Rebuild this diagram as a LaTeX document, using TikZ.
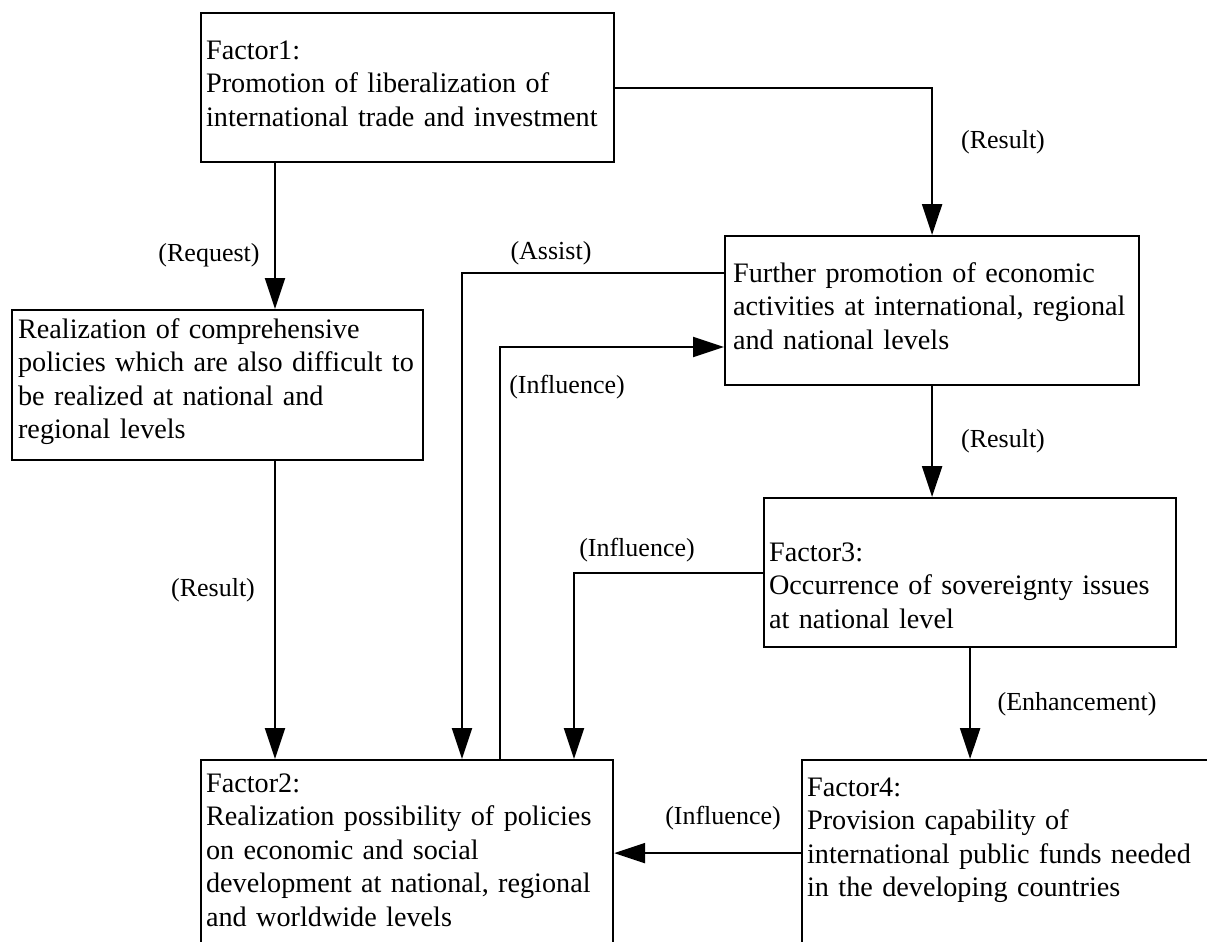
\documentclass[tikz,border=0pt]{standalone}
\usepackage{fontspec}
\setmainfont{Liberation Serif}
\usetikzlibrary{arrows.meta}
\tikzset{
  flow/.style={-{Triangle[length=31pt,width=20pt]},line width=2.2pt,draw=black},
  box/.style={draw=black,line width=2.2pt,anchor=north west,inner xsep=5pt,
    inner ysep=0pt,align=left,font=\fontsize{28.2}{33.5}\selectfont},
  tag/.style={font=\fontsize{26}{30}\selectfont,inner sep=0pt}
}

\begin{document}
\begin{tikzpicture}[x=1pt,y=-1pt]
  \path[use as bounding box,clip] (0,0) rectangle (1207,942);
  % boxes
  \node[box,text width=403pt,text height=46pt,text depth=103pt] (f1) at (200,12)
    {Factor1:\\Promotion of liberalization of\\international trade and investment};
  \node[box,inner xsep=6pt,text width=399pt,text height=28pt,text depth=122pt] (r) at (11,309)
    {Realization of comprehensive\\policies which are also difficult to\\be realized at national and\\regional levels};
  \node[box,inner xsep=8pt,text width=398pt,text height=46pt,text depth=103pt] (p) at (724,235)
    {Further promotion of economic\\activities at international, regional\\and national levels};
  \node[box,text width=402pt,text height=63pt,text depth=86pt] (f3) at (763,497)
    {Factor3:\\Occurrence of sovereignty issues\\at national level};
  \node[box,text width=402pt,text height=32pt,text depth=154pt] (f2) at (200,759)
    {Factor2:\\Realization possibility of policies\\on economic and social\\development at national, regional\\and worldwide levels};
  \node[box,text width=419pt,text height=36pt,text depth=150pt] (f4) at (801,759)
    {Factor4:\\Provision capability of\\international public funds needed\\in the developing countries};
  % connectors
  \draw[flow] ([xshift=75pt]f1.south west) -- ([xshift=264pt]r.north west);
  \draw[flow] (f1.east) -| (p.north);
  \draw[flow] ([xshift=264pt]r.south west) -- ([xshift=75pt]f2.north west);
  \draw[flow] ([yshift=-38pt]p.north west) -| ([xshift=262pt]f2.north west);
  \draw[flow] ([xshift=300pt]f2.north west) |- ([yshift=-112pt]p.north west);
  \draw[flow] (p.south) -- (p.south |- f3.north);
  \draw[flow] (f3.west) -| ([xshift=374pt]f2.north west);
  \draw[flow] (f3.south) -- (f3.south |- f4.north);
  \draw[flow] (f4.west) -- (f4.west -| f2.east);
  % labels
  \node[tag] (request) at (209,255) {(Request)};
  \node[tag] (result1) at (1003,142) {(Result)};
  \node[tag] (assist) at (551,253) {(Assist)};
  \node[tag] (influence1) at (567,387) {(Influence)};
  \node[tag] (result2) at (1003,441) {(Result)};
  \node[tag] (influence2) at (637,550) {(Influence)};
  \node[tag] (result3) at (213,590) {(Result)};
  \node[tag] (enhance) at (1077,704) {(Enhancement)};
  \node[tag] (influence3) at (723,818) {(Influence)};
\end{tikzpicture}
\end{document}
